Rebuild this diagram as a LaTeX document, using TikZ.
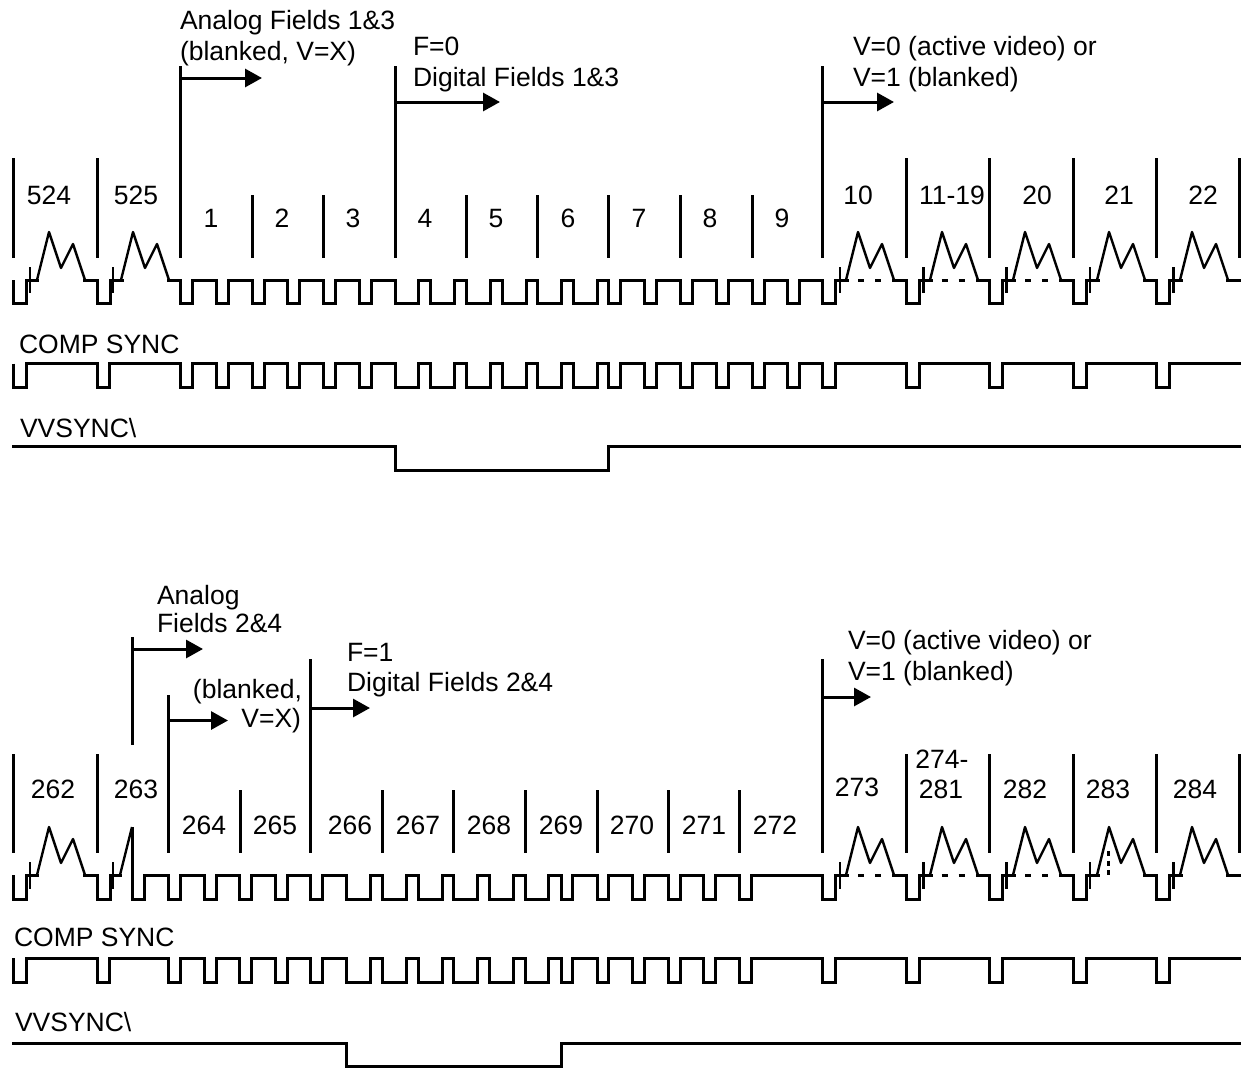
\documentclass[tikz,border=0pt]{standalone}
\usepackage{fontspec}
\setmainfont{Liberation Sans}
\usetikzlibrary{arrows.meta}
\tikzset{
  lab/.style={inner sep=0pt,outer sep=0pt,font=\fontsize{26.5}{30}\selectfont,text=black},
  labl/.style={lab,anchor=base west},
  labc/.style={lab,anchor=base},
  labr/.style={lab,anchor=base east},
  wave/.style={line width=3pt},
  burst/.style={line width=2.4pt,line join=round},
  mark line/.style={line width=3pt},
  guide/.style={line width=3pt,-{Triangle[length=17pt,width=18pt]}},
  tickline/.style={line width=2.6pt},
  dashline/.style={line width=3pt,dash pattern=on 6pt off 11pt},
  dotline/.style={line width=3pt,dash pattern=on 5pt off 4.5pt}
}
% #1 start of pulse, #2 width of the low part
\newcommand\pd[2]{-- (#1,\yh) -- (#1,\yl) -- (#1+#2,\yl) -- (#1+#2,\yh)}
% pulse, then flat up to the burst; the path resumes after the burst
\newcommand\ps[1]{-- (#1,\yh) -- (#1,\yl) -- (#1+13,\yl) -- (#1+13,\yh) -- (#1+27,\yh) (#1+70,\yh)}
\begin{document}
\begin{tikzpicture}[x=1pt,y=-1pt]
\useasboundingbox (0,0) rectangle (1241,1068);

% ===== Upper diagram =====
\foreach \x in {13,97,906,989,1073,1156,1239} \draw[mark line] (\x,158) -- (\x,257.5);
\foreach \x in {180,395,822} \draw[mark line] (\x,66) -- (\x,257.5);
\foreach \x in {252,323,466,537,608,680,752} \draw[mark line] (\x,195) -- (\x,257.5);

\coordinate (a1s) at (180,78);  \coordinate (a1e) at (262,78);
\coordinate (a2s) at (395,102); \coordinate (a2e) at (500,102);
\coordinate (a3s) at (822,102); \coordinate (a3e) at (894,102);
\draw[guide] (a1s) -- (a1e);
\draw[guide] (a2s) -- (a2e);
\draw[guide] (a3s) -- (a3e);

\node[labl] (t1) at (180,29) {Analog Fields 1\&3};
\node[labl] (t2) at (180,60) {(blanked, V=X)};
\node[labl] (t3) at (413,55) {F=0};
\node[labl] (t4) at (413,86) {Digital Fields 1\&3};
\node[labl] (t5) at (853,55) {V=0 (active video) or};
\node[labl] (t6) at (853,86) {V=1 (blanked)};

\node[labc] (n524) at (49,204) {524};
\node[labc] (n525) at (136,204) {525};
\node[labc] (n1) at (211,227) {1};
\node[labc] (n2) at (282,227) {2};
\node[labc] (n3) at (353,227) {3};
\node[labc] (n4) at (425,227) {4};
\node[labc] (n5) at (496,227) {5};
\node[labc] (n6) at (568,227) {6};
\node[labc] (n7) at (639,227) {7};
\node[labc] (n8) at (710,227) {8};
\node[labc] (n9) at (782,227) {9};
\node[labc] (n10) at (858,204) {10};
\node[labc] (n11) at (952,204) {11-19};
\node[labc] (n20) at (1037,204) {20};
\node[labc] (n21) at (1119,204) {21};
\node[labc] (n22) at (1203,204) {22};

\def\yh{280}\def\yl{303}
\draw[wave] (13,\yh) -- (13,\yl) -- (26,\yl) -- (26,\yh) -- (39,\yh) (83,\yh)
  \ps{97} \pd{180}{12} \pd{216}{12} \pd{252}{12} \pd{287}{12} \pd{323}{12} \pd{359}{12}
  \pd{395}{23.5} \pd{430}{24} \pd{466}{24} \pd{502}{24} \pd{537.5}{24} \pd{573}{24}
  \pd{608}{12} \pd{644}{12} \pd{680}{12} \pd{716}{12} \pd{752}{12} \pd{787.5}{12}
  \ps{822} \ps{906} \ps{989} \ps{1073} \ps{1156} -- (1241,\yh);
\foreach \x in {13,97,822,906,989,1073,1156}
  \draw[burst] (\x+24,\yh) -- (\x+36,\yh-48) -- (\x+48,\yh-12) -- (\x+60,\yh-36) -- (\x+72,\yh);
\foreach \x in {30,113,840,923.5,1006.5,1090,1173.5} \draw[tickline] (\x,267) -- (\x,293);
\foreach \x in {858,941.5,1025} \draw[dashline] (\x,\yh) -- (\x+28,\yh);

\node[labl] (cs1) at (19,353) {COMP SYNC};
\def\yh{363.5}\def\yl{387}
\draw[wave] (13,\yh) -- (13,\yl) -- (26,\yl) -- (26,\yh)
  \pd{97}{12} \pd{180}{12} \pd{216}{12} \pd{252}{12} \pd{287}{12} \pd{323}{12} \pd{359}{12}
  \pd{395}{23.5} \pd{430}{24} \pd{466}{24} \pd{502}{24} \pd{537.5}{24} \pd{573}{24}
  \pd{608}{12} \pd{644}{12} \pd{680}{12} \pd{716}{12} \pd{752}{12} \pd{787.5}{12}
  \pd{822}{13} \pd{906}{13} \pd{989}{13} \pd{1073}{13} \pd{1156}{13} -- (1241,\yh);

\node[labl] (vv1) at (20,437) {VVSYNC\textbackslash};
\draw[wave] (12,446) -- (395,446) -- (395,470) -- (608,470) -- (608,446) -- (1241,446);

% ===== Lower diagram =====
\foreach \x in {13,97,906,989,1073,1156,1239} \draw[mark line] (\x,754) -- (\x,853);
\draw[mark line] (132,637) -- (132,745);
\draw[mark line] (168,695) -- (168,853);
\foreach \x in {310,822} \draw[mark line] (\x,659) -- (\x,853);
\foreach \x in {240,382,453,525,597,668,739} \draw[mark line] (\x,790) -- (\x,853);

\coordinate (b1s) at (132,649); \coordinate (b1e) at (203,649);
\coordinate (b2s) at (168,720.5); \coordinate (b2e) at (228,720.5);
\coordinate (b3s) at (310,708); \coordinate (b3e) at (370,708);
\coordinate (b4s) at (822,697); \coordinate (b4e) at (871,697);
\draw[guide] (b1s) -- (b1e);
\draw[guide] (b2s) -- (b2e);
\draw[guide] (b3s) -- (b3e);
\draw[guide] (b4s) -- (b4e);

\node[labl] (u1) at (157,604) {Analog};
\node[labl] (u2) at (157,632) {Fields 2\&4};
\node[labr] (u3) at (302,698) {(blanked,};
\node[labr] (u4) at (301,727) {V=X)};
\node[labl] (u5) at (347,661) {F=1};
\node[labl] (u6) at (347,691) {Digital Fields 2\&4};
\node[labl] (u7) at (848,649) {V=0 (active video) or};
\node[labl] (u8) at (848,680) {V=1 (blanked)};

\node[labc] (n262) at (53,798) {262};
\node[labc] (n263) at (136,798) {263};
\node[labc] (n264) at (204,834) {264};
\node[labc] (n265) at (275,834) {265};
\node[labc] (n266) at (350,834) {266};
\node[labc] (n267) at (418,834) {267};
\node[labc] (n268) at (489,834) {268};
\node[labc] (n269) at (561,834) {269};
\node[labc] (n270) at (632,834) {270};
\node[labc] (n271) at (704,834) {271};
\node[labc] (n272) at (775,834) {272};
\node[labc] (n273) at (857,796) {273};
\node[labc] (n274) at (942,768) {274-};
\node[labc] (n281) at (941,798) {281};
\node[labc] (n282) at (1025,798) {282};
\node[labc] (n283) at (1108,798) {283};
\node[labc] (n284) at (1195,798) {284};

\def\yh{875}\def\yl{899}
\draw[wave] (13,\yh) -- (13,\yl) -- (26,\yl) -- (26,\yh) -- (39,\yh) (83,\yh)
  -- (97,\yh) -- (97,\yl) -- (110,\yl) -- (110,\yh) -- (122,\yh) (132,827) -- (132,\yl) -- (144.5,\yl) -- (144.5,\yh)
  \pd{168}{12} \pd{204}{12} \pd{239}{12} \pd{275}{12} \pd{310}{12}
  \pd{346}{24.5} \pd{382}{24.5} \pd{418}{24} \pd{453}{24.5} \pd{489}{24} \pd{525}{23.5}
  \pd{561}{11.5} \pd{597}{11.5} \pd{632.5}{11.5} \pd{668}{12} \pd{703.5}{12} \pd{739}{12.5}
  \ps{822} \ps{906} \ps{989} \ps{1073} \ps{1156} -- (1241,\yh);
\foreach \x in {13,822,906,989,1073,1156}
  \draw[burst] (\x+24,\yh) -- (\x+36,\yh-48) -- (\x+48,\yh-12) -- (\x+60,\yh-36) -- (\x+72,\yh);
\draw[burst] (120,\yh) -- (132,\yh-48);
\foreach \x in {30,113,840,923.5,1006.5,1090,1173.5} \draw[tickline] (\x,862) -- (\x,889);
\foreach \x in {858,941.5,1025} \draw[dashline] (\x,\yh) -- (\x+28,\yh);
\draw[dotline] (1108.5,851) -- (1108.5,879);

\node[labl] (cs2) at (14,946) {COMP SYNC};
\def\yh{958}\def\yl{982}
\draw[wave] (13,\yh) -- (13,\yl) -- (26,\yl) -- (26,\yh)
  \pd{97}{12} \pd{168}{12} \pd{204}{12} \pd{239}{12} \pd{275}{12} \pd{310}{12}
  \pd{346}{24.5} \pd{382}{24.5} \pd{418}{24} \pd{453}{24.5} \pd{489}{24} \pd{525}{23.5}
  \pd{561}{11.5} \pd{597}{11.5} \pd{632.5}{11.5} \pd{668}{12} \pd{703.5}{12} \pd{739}{12.5}
  \pd{822}{13} \pd{906}{13} \pd{989}{13} \pd{1073}{13} \pd{1156}{13} -- (1241,\yh);

\node[labl] (vv2) at (15,1031) {VVSYNC\textbackslash};
\draw[wave] (12,1043) -- (346,1043) -- (346,1066) -- (561,1066) -- (561,1043) -- (1241,1043);
\end{tikzpicture}
\end{document}
